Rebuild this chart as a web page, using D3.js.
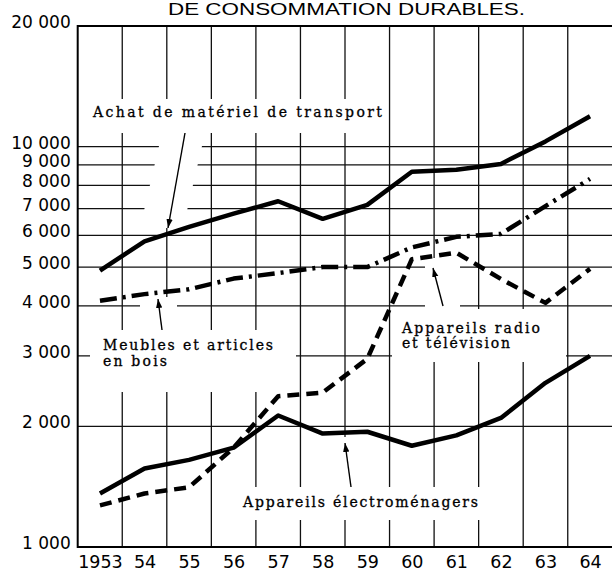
<!DOCTYPE html>
<meta charset="utf-8">
<script src="https://d3js.org/d3.v7.min.js"></script>
<style>
  body { margin: 0; background: #fff; }
  svg { display: block; }
</style>
<div id="chart"></div>
<script>
// data (log scale, values)
const years = [1953, 1954, 1955, 1956, 1957, 1958, 1959, 1960, 1961, 1962, 1963, 1964];
const transport = [4900, 5800, 6300, 6800, 7300, 6600, 7150, 8650, 8750, 9050, 10300, 11900];
const meubles = [4120, 4280, 4400, 4680, 4830, 5000, 5000, 5600, 5950, 6050, 7100, 8300];
const radio = [1270, 1360, 1410, 1770, 2380, 2430, 2950, 5230, 5430, 4670, 4070, 4950];
const electro = [1360, 1570, 1650, 1770, 2130, 1920, 1940, 1790, 1900, 2100, 2570, 3000];

const yTicks = [1000, 2000, 3000, 4000, 5000, 6000, 7000, 8000, 9000, 10000, 20000];
const yGrid = [2000, 3000, 4000, 5000, 6000, 7000, 8000, 9000, 10000];
const title = "DE CONSOMMATION DURABLES.";

const W = 612, H = 574;
const svg = d3.select("#chart").append("svg")
    .attr("width", W).attr("height", H);

const x = d3.scaleLinear().domain([1952.5, 1964.5]).range([77.7, 612.3]);
const y = d3.scaleLog().domain([1000, 20000]).range([547, 26]);

const fr = d3.formatLocale({decimal: ",", thousands: " ", grouping: [3], currency: ["", ""]});
const fmt = fr.format(",");

// title
svg.append("text")
    .attr("x", 168).attr("y", 15)
    .attr("textLength", 357).attr("lengthAdjust", "spacingAndGlyphs")
    .style("font", "17px 'Liberation Sans', sans-serif")
    .text(title);

// grid
const grid = svg.append("g").attr("stroke", "#111").attr("stroke-width", 1.3);
grid.selectAll(".h").data(yGrid).join("line")
    .attr("x1", x(1952.5)).attr("x2", W)
    .attr("y1", d => y(d)).attr("y2", d => y(d));
grid.selectAll(".v").data(years.slice(0, -1).map(d => d + 0.5)).join("line")
    .attr("x1", d => x(d)).attr("x2", d => x(d))
    .attr("y1", y(20000)).attr("y2", y(1000));

// white boxes behind the labels and arrows
const masks = svg.append("g").attr("fill", "#fff");
[[85, 99, 303, 34], [90, 330, 206, 62], [140, 297, 37, 33],
 [392, 309, 174, 53], [425, 258, 35, 51], [225, 487, 265, 33], [333, 437, 28, 50]]
  .forEach(r => masks.append("rect").attr("x", r[0]).attr("y", r[1]).attr("width", r[2]).attr("height", r[3]));
masks.append("polygon").attr("points", "162,133 205,133 183,228 140,228");

// frame
svg.append("path")
    .attr("d", `M${W},${y(20000)}H${x(1952.5)}V${y(1000)}H${W}`)
    .attr("stroke", "#000").attr("stroke-width", 2).attr("fill", "none");

// series
const line = d3.line().x((d, i) => x(years[i])).y(d => y(d));
const series = [
  {values: transport, dash: null},
  {values: meubles, dash: "17,6,3,6"},
  {values: radio, dash: "12,7"},
  {values: electro, dash: null}
];
svg.append("g").selectAll("path").data(series).join("path")
    .attr("d", d => line(d.values))
    .attr("fill", "none").attr("stroke", "#000")
    .attr("stroke-width", 4.5)
    .attr("stroke-linejoin", "round")
    .attr("stroke-dasharray", d => d.dash);

// arrows
svg.append("defs").append("marker")
    .attr("id", "head").attr("viewBox", "0 0 10 10")
    .attr("refX", 10).attr("refY", 5)
    .attr("markerWidth", 9).attr("markerHeight", 9)
    .attr("markerUnits", "userSpaceOnUse")
    .attr("orient", "auto")
  .append("path").attr("d", "M0,1.5L10,5L0,8.5Z").attr("fill", "#000");
const arrows = [[185, 133, 168, 228], [162, 330, 158, 299], [443, 306, 433, 268], [351, 487, 345, 443]];
svg.append("g").selectAll("line").data(arrows).join("line")
    .attr("x1", d => d[0]).attr("y1", d => d[1])
    .attr("x2", d => d[2]).attr("y2", d => d[3])
    .attr("stroke", "#000").attr("stroke-width", 1.4)
    .attr("marker-end", "url(#head)");

// labels on the chart
const notes = [
  ["Achat de matériel de transport", 93, 117, 289],
  ["Meubles et articles", 103, 350, 170],
  ["en bois", 103, 366, 64],
  ["Appareils radio", 402, 333, 138],
  ["et télévision", 402, 348, 108],
  ["Appareils électroménagers", 243, 507, 235]
];
svg.append("g").selectAll("text").data(notes).join("text")
    .attr("x", d => d[1]).attr("y", d => d[2])
    .attr("textLength", d => d[3]).attr("lengthAdjust", "spacing")
    .style("font", "14px 'DejaVu Serif', serif")
    .attr("stroke", "#000").attr("stroke-width", 0.3)
    .text(d => d[0]);

// y axis labels
const yAxis = svg.append("g")
    .attr("transform", `translate(${x(1952.5) - 7},0)`)
    .call(d3.axisLeft(y).tickValues(yTicks).tickFormat(fmt).tickSize(0).tickPadding(0));
yAxis.select(".domain").remove();
yAxis.selectAll("text")
    .attr("y", 0).attr("dy", 1.5)
    .style("font", "17px 'DejaVu Sans', sans-serif")
    .attr("fill", "#000");

// x axis labels
const xAxis = svg.append("g")
    .attr("transform", `translate(0,${y(1000)})`)
    .call(d3.axisBottom(x).tickValues(years)
        .tickFormat(d => d === 1953 ? "1953" : String(d).slice(2))
        .tickSize(0).tickPadding(0));
xAxis.select(".domain").remove();
xAxis.selectAll("text")
    .attr("y", 21).attr("dy", 0)
    .style("font", "17.5px 'DejaVu Sans', sans-serif")
    .attr("fill", "#000");
</script>
